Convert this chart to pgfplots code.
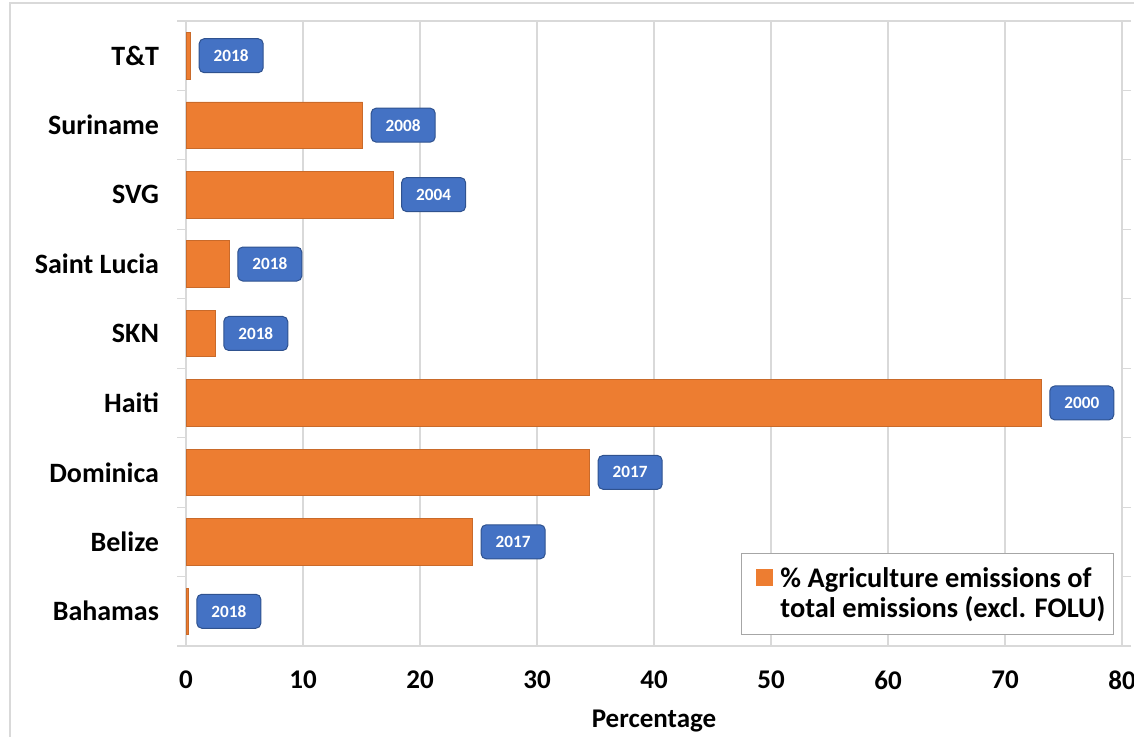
\documentclass[border=0pt]{standalone}
\usepackage{pgfplots}
\pgfplotsset{compat=1.18}
\usepackage{pgfplotstable}
\usepackage{fontspec}
\setmainfont{Carlito}

\definecolor{barorange}{HTML}{ED7D31}
\definecolor{boxblue}{HTML}{4472C4}
\definecolor{boxedge}{HTML}{2F528F}
\definecolor{gridgray}{HTML}{D9D9D9}

% categories from bottom (y=0) to top (y=8)
\pgfplotstableread{
y  val   year
0  0.2   2018
1  24.5  2017
2  34.5  2017
3  73.1  2000
4  2.5   2018
5  3.7   2018
6  17.7  2004
7  15.1  2008
8  0.4   2018
}\agdata

\begin{document}
\begin{tikzpicture}
\begin{axis}[
    name=ax,
    width=468pt, height=312.5pt,
    scale only axis,
    xmin=0, xmax=80,
    ymin=-0.5, ymax=8.5,
    xtick={0,10,...,80},
    ytick={0,...,8},
    yticklabels={Bahamas,Belize,Dominica,Haiti,SKN,Saint Lucia,SVG,Suriname,T\&T},
    minor ytick={-0.5,0.5,...,8.5},
    major tick length=0pt,
    minor tick length=4.5pt,
    tick align=outside,
    tick style={gridgray, line width=0.6pt},
    xmajorgrids,
    major grid style={gridgray, line width=0.6pt},
    axis line style={gridgray, line width=0.8pt},
    xticklabel style={font=\fontsize{13.5}{15}\selectfont\bfseries, yshift=-9pt},
    yticklabel style={font=\fontsize{14}{15}\selectfont\bfseries, xshift=-10pt},
    /pgf/number format/assume math mode=true,
    xlabel={Percentage},
    xlabel style={font=\fontsize{13.5}{15}\selectfont\bfseries, yshift=-3pt},
    legend style={
        at={(1,0)}, anchor=south east, xshift=-4pt, yshift=5.5pt,
        draw=gray!70, line width=0.6pt,
        font=\fontsize{14.2}{15}\selectfont\bfseries,
        inner xsep=2pt, inner ysep=5pt,
        cells={align=left, anchor=west},
    },
    legend image code/.code={
        \fill[barorange] (5pt,4.5pt) rectangle (13pt,12.5pt);
        \path (0pt,0pt) (15pt,0pt);
    },
]
\addplot[
    xbar, bar width=0.67, fill=barorange, draw=barorange!85!black, line width=0.3pt,
    point meta=explicit symbolic,
    nodes near coords,
    nodes near coords style={
        anchor=west, xshift=4pt,
        fill=boxblue, draw=boxedge, line width=0.5pt,
        rounded corners=2.5pt,
        text=white, font=\fontsize{8.6}{9}\selectfont\bfseries,
        minimum width=32pt, minimum height=17pt, inner sep=1pt,
    },
] table[x=val, y=y, meta=year] {\agdata};
\addlegendentry{\% Agriculture emissions of\\total emissions (excl. FOLU)}
\end{axis}
\draw[gridgray, line width=0.6pt]
    ([xshift=-88pt,yshift=-45.5pt]ax.south west) --
    ([xshift=-88pt,yshift=9pt]ax.north west) --
    ([xshift=10pt,yshift=9pt]ax.north east);
\pgfresetboundingbox
\useasboundingbox ([xshift=-93pt,yshift=-46pt]ax.south west)
    rectangle ([xshift=6pt,yshift=10.5pt]ax.north east);
\end{tikzpicture}
\end{document}
